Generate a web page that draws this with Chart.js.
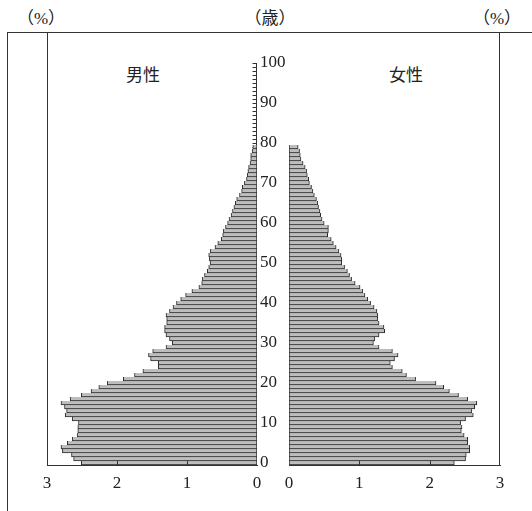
<!DOCTYPE html>
<html lang="ja">
<head>
<meta charset="utf-8">
<title>人口ピラミッド</title>
<script src="https://cdn.jsdelivr.net/npm/chart.js@4/dist/chart.umd.min.js"></script>
<style>
  html, body { margin: 0; padding: 0; background: #fff; }
  #wrap { position: relative; width: 532px; height: 511px; overflow: hidden; }
  #frame {
    position: absolute; left: 7px; top: 32px; width: 540px; height: 500px;
    border-left: 1px solid #333; border-top: 1px solid #333;
  }
  canvas { position: absolute; top: 0; }
  #male { left: 0; }
  #female { left: 256px; }
  .lbl {
    position: absolute; transform: translate(-50%, -50%); white-space: nowrap;
    font-family: "Liberation Serif", "Noto Sans CJK JP", serif; color: #222;
  }
  .unit { font-size: 17px; top: 16px; }
  .sex { font-size: 17px; top: 73px; font-family: "Noto Sans CJK JP", sans-serif; }
</style>
</head>
<body>
<div id="wrap">
  <div id="frame"></div>
  <div class="lbl unit" style="left:41px">（%）</div>
  <div class="lbl unit" style="left:270px">（歳）</div>
  <div class="lbl unit" style="left:497px">（%）</div>
  <div class="lbl sex" style="left:143px">男性</div>
  <div class="lbl sex" style="left:406px">女性</div>
  <canvas id="male" width="270" height="511"></canvas>
  <canvas id="female" width="276" height="511"></canvas>
</div>
<script>
// age categories (one per year), labelled axis ticks
const ages = Array.from({ length: 108 }, (_, i) => String(i));
const ageTicks = [0, 10, 20, 30, 40, 50, 60, 70, 80, 90, 100];
const pctTicks = [0, 1, 2, 3];

// share of population (%) by single year of age, ages 0..79
const male = [
  2.51, 2.62, 2.65, 2.78, 2.80, 2.71, 2.64, 2.57, 2.56, 2.56,
  2.55, 2.64, 2.74, 2.72, 2.75, 2.80, 2.67, 2.51, 2.37, 2.26,
  2.14, 1.91, 1.75, 1.63, 1.41, 1.41, 1.52, 1.55, 1.49, 1.30,
  1.21, 1.25, 1.30, 1.32, 1.32, 1.29, 1.29, 1.30, 1.25, 1.20,
  1.15, 1.09, 1.02, 0.93, 0.83, 0.79, 0.78, 0.75, 0.71, 0.69,
  0.67, 0.68, 0.69, 0.67, 0.60, 0.56, 0.51, 0.49, 0.48, 0.45,
  0.42, 0.40, 0.37, 0.35, 0.33, 0.31, 0.29, 0.25, 0.22, 0.21,
  0.18, 0.15, 0.14, 0.13, 0.12, 0.10, 0.09, 0.09, 0.07, 0.06,
];
const female = [
  2.35, 2.51, 2.52, 2.57, 2.57, 2.54, 2.54, 2.49, 2.45, 2.46,
  2.44, 2.51, 2.62, 2.60, 2.64, 2.67, 2.54, 2.41, 2.28, 2.20,
  2.09, 1.80, 1.67, 1.61, 1.47, 1.44, 1.50, 1.55, 1.47, 1.28,
  1.20, 1.22, 1.28, 1.36, 1.35, 1.28, 1.26, 1.26, 1.25, 1.21,
  1.16, 1.12, 1.08, 1.05, 1.01, 0.94, 0.89, 0.86, 0.83, 0.79,
  0.75, 0.75, 0.74, 0.71, 0.67, 0.63, 0.60, 0.55, 0.56, 0.56,
  0.50, 0.47, 0.45, 0.44, 0.42, 0.41, 0.39, 0.36, 0.34, 0.32,
  0.29, 0.28, 0.26, 0.25, 0.23, 0.20, 0.17, 0.16, 0.15, 0.13,
];

const lineColor = "#333";
const textColor = "#222";
const serif = "'Liberation Serif', 'Times New Roman', serif";

Chart.defaults.font.family = serif;
Chart.defaults.font.size = 17;
Chart.defaults.color = textColor;

// side frame line, inward ticks on the % axis, and (male side) the age comb
function panelMarks(side) {
  return {
    id: "panelMarks-" + side,
    beforeDatasetsDraw(chart) {
      if (side !== "male") return;
      const { ctx, chartArea: a, scales: { y } } = chart;
      const cx = Math.round(a.right) - 0.5;
      ctx.save();
      ctx.strokeStyle = lineColor;
      ctx.lineWidth = 1;
      ctx.beginPath();
      ctx.moveTo(cx, Math.round(y.getPixelForValue(100)));
      ctx.lineTo(cx, a.bottom);
      for (let i = 0; i <= 100; i++) {
        const py = Math.round(y.getPixelForValue(i)) + 0.5;
        ctx.moveTo(cx - 4, py);
        ctx.lineTo(cx, py);
      }
      ctx.stroke();
      ctx.restore();
    },
    afterDraw(chart) {
      const { ctx, chartArea: a, scales: { x } } = chart;
      ctx.save();
      ctx.strokeStyle = lineColor;
      ctx.lineWidth = 1;
      ctx.beginPath();
      const ex = side === "male" ? Math.round(a.left) + 0.5 : Math.round(a.right) - 0.5;
      ctx.moveTo(ex, a.top - 1);
      ctx.lineTo(ex, a.bottom);
      for (const v of [1, 2]) {
        const px = Math.round(x.getPixelForValue(v)) + 0.5;
        ctx.moveTo(px, a.bottom);
        ctx.lineTo(px, a.bottom - 4);
      }
      ctx.stroke();
      ctx.restore();
    },
  };
}

function makePanel(canvasId, side, values) {
  const isMale = side === "male";
  return new Chart(document.getElementById(canvasId), {
    type: "bar",
    data: {
      labels: ages,
      datasets: [{
        data: values,
        backgroundColor: "#bdbdbd",
        borderColor: "#2a2a2a",
        borderWidth: { top: 0, bottom: 1, left: 1, right: 1 },
        borderSkipped: false,
        barPercentage: 1,
        categoryPercentage: 1,
      }],
    },
    options: {
      indexAxis: "y",
      responsive: false,
      animation: false,
      layout: {
        padding: isMale
          ? { left: 47, right: 13, top: 33, bottom: 0 }
          : { left: 4, right: 32, top: 33, bottom: 0 },
      },
      scales: {
        x: {
          type: "linear",
          min: pctTicks[0],
          max: pctTicks[pctTicks.length - 1],
          reverse: isMale,
          afterBuildTicks: (s) => { s.ticks = pctTicks.map((v) => ({ value: v })); },
          ticks: { padding: 8, color: textColor },
          grid: { display: false, drawTicks: false },
          border: { display: true, color: lineColor, width: 1 },
          afterFit: (s) => { s.height = 46; s.paddingLeft = 0; s.paddingRight = 0; },
        },
        y: {
          type: "category",
          reverse: true,
          offset: true,
          position: "left",
          display: !isMale,
          grid: { display: false, drawTicks: false },
          border: { display: false },
          ticks: {
            autoSkip: false,
            crossAlign: "far",
            padding: 0,
            color: textColor,
            callback(v) {
              const a = Number(this.getLabelForValue(v));
              return ageTicks.includes(a) ? String(a) : "";
            },
          },
          afterFit: (s) => {
            s.width = isMale ? 0 : 29;
            s.paddingTop = 0;
            s.paddingBottom = 0;
          },
        },
      },
      plugins: {
        legend: { display: false },
        tooltip: { enabled: false },
      },
    },
    plugins: [panelMarks(side)],
  });
}

makePanel("male", "male", male);
makePanel("female", "female", female);
</script>
</body>
</html>
